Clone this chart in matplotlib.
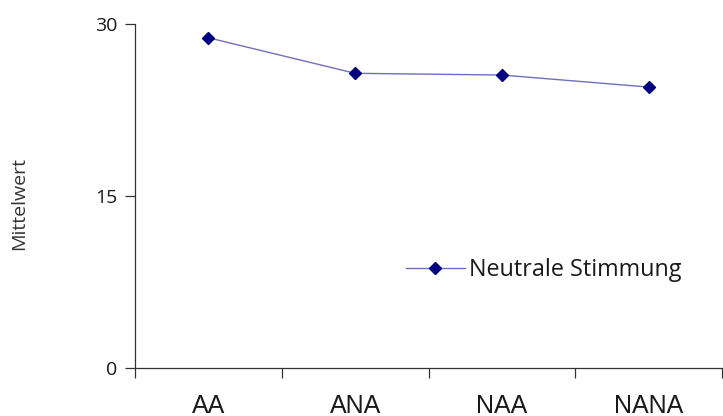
import matplotlib.pyplot as plt
from matplotlib.ticker import FixedLocator

conditions = ["AA", "ANA", "NAA", "NANA"]
neutral_mood = [28.8, 25.7, 25.55, 24.5]
y_ticks = [0, 15, 30]

plt.rcParams["font.family"] = ["Open Sans", "DejaVu Sans"]

fig = plt.figure(figsize=(7.23, 4.16), dpi=100)
ax = fig.add_axes([135 / 723, 1 - 368 / 416, 587 / 723, 344 / 416])

x = list(range(len(conditions)))
ax.plot(x, neutral_mood, color="#6f6fc0", linewidth=1.0,
        marker="D", markersize=6.5, markerfacecolor="#000080",
        markeredgecolor="#000080", label="Neutrale Stimmung")

ax.set_xlim(-0.5, len(conditions) - 0.5)
ax.set_ylim(0, 30)

ax.set_yticks(y_ticks)
ax.set_yticklabels([str(t) for t in y_ticks], fontsize=14, color="#1a1a1a")
ax.tick_params(axis="y", length=7, width=0.9, pad=6, color="#333333")

# category labels centred, tick marks on the category boundaries
ax.set_xticks(x)
ax.set_xticklabels(conditions, fontsize=18, color="#1a1a1a",
                   family=["Liberation Sans", "DejaVu Sans"])
ax.tick_params(axis="x", which="major", length=0, pad=19)
ax.xaxis.set_minor_locator(FixedLocator([i - 0.5 for i in range(len(conditions) + 1)]))
ax.tick_params(axis="x", which="minor", length=7, width=0.9, color="#333333")

for side in ["top", "right"]:
    ax.spines[side].set_visible(False)
for side in ["left", "bottom"]:
    ax.spines[side].set_linewidth(0.9)
    ax.spines[side].set_color("#333333")

fig.text(19.5 / 723, 1 - 204 / 416, "Mittelwert", rotation=90,
         ha="center", va="center", fontsize=14, color="#333333")

ax.legend(loc="center left", bbox_to_anchor=(0.462, 0.285), frameon=False,
          fontsize=16.8, borderpad=0, borderaxespad=0, handlelength=2.5,
          handletextpad=0.2, labelcolor="#1a1a1a")

fig.savefig("out.png", dpi=100)
